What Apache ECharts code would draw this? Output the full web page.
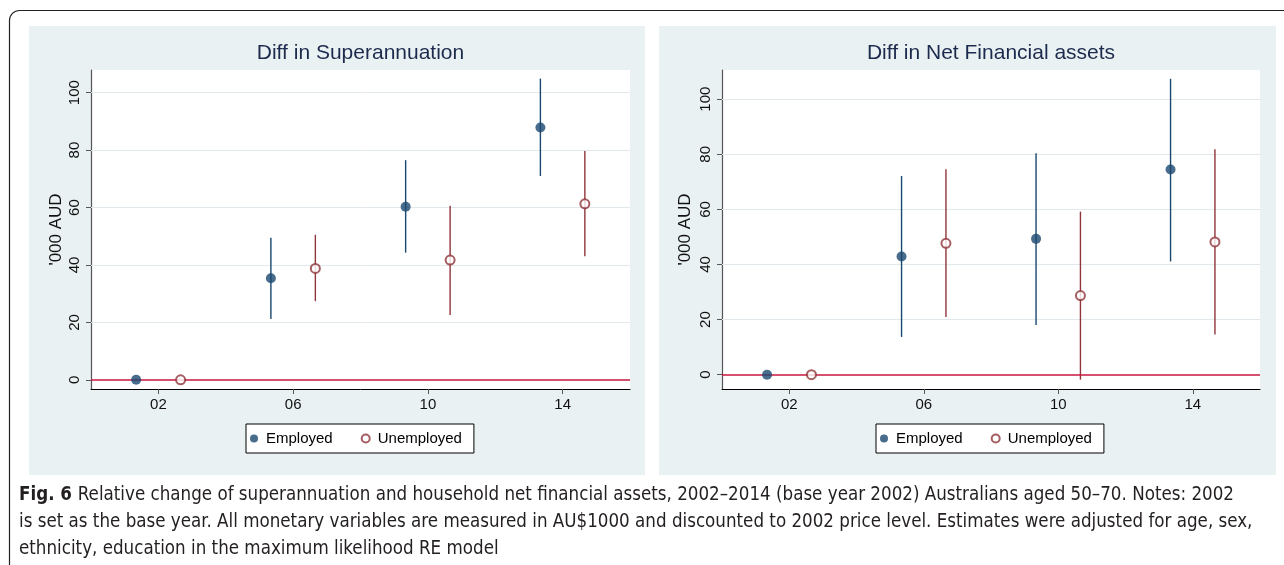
<!DOCTYPE html>
<html><head><meta charset="utf-8">
<script src="https://cdn.jsdelivr.net/npm/echarts@6/dist/echarts.min.js"></script>
<style>html,body{margin:0;padding:0;background:#fff}#c{width:1284px;height:565px}</style>
</head><body><div id="c"></div>
<script>
// ---------- data ----------
const years = [2002, 2006, 2010, 2014];
const xTickLabels = ['02', '06', '10', '14'];
const yTicks = [0, 20, 40, 60, 80, 100];
const panelTitles = ['Diff in Superannuation', 'Diff in Net Financial assets'];
const seriesNames = ['Employed', 'Unemployed'];
const yAxisName = "'000 AUD";

// Superannuation
const superEmpEst   = [0, 35.4, 60.3, 87.9];
const superEmpLow   = [0, 21.2, 44.3, 71.0];
const superEmpHigh  = [0, 49.5, 76.5, 104.9];
const superUnempEst = [0, 38.8, 41.7, 61.3];
const superUnempLow = [0, 27.4, 22.6, 43.0];
const superUnempHigh= [0, 50.5, 60.6, 79.7];

// Net financial assets
const nfaEmpEst   = [0, 42.9, 49.3, 74.5];
const nfaEmpLow   = [0, 13.7, 18.0, 41.1];
const nfaEmpHigh  = [0, 72.1, 80.4, 107.4];
const nfaUnempEst = [0, 47.7, 28.7, 48.2];
const nfaUnempLow = [0, 20.9, -1.8, 14.6];
const nfaUnempHigh= [0, 74.6, 59.2, 81.8];

const captionBold = 'Fig. 6';
const captionLines = [
  'Relative change of superannuation and household net financial assets, 2002\u20132014 (base year 2002) Australians aged 50\u201370. Notes: 2002',
  'is set as the base year. All monetary variables are measured in AU$1000 and discounted to 2002 price level. Estimates were adjusted for age, sex,',
  'ethnicity, education in the maximum likelihood RE model'
];

// ---------- layout / style ----------
const FONT = '"Liberation Sans", Arial, sans-serif';
const CAPFONT = '"Liberation Sans Narrow", "DejaVu Sans Condensed", "Liberation Sans", sans-serif';
const NAVY = '#1a476f', MAROON = '#90353b', ZERO = '#c9163f', GRIDC = '#e1e9ec', PANEL = '#eaf1f3';
const dodge = 0.66;

const panels = [
  { grid: {left: 91, top: 70, width: 539, height: 319}, yMin: -3.2, yMax: 107.9, nameGap: 26,
    bg: [29, 26, 616, 449], titleX: 360.5, legendLeft: 246,
    emp: [superEmpEst, superEmpLow, superEmpHigh], unemp: [superUnempEst, superUnempLow, superUnempHigh] },
  { grid: {left: 722, top: 70, width: 538, height: 319}, yMin: -5.2, yMax: 110.6, nameGap: 28,
    bg: [659, 26, 617, 449], titleX: 991, legendLeft: 876,
    emp: [nfaEmpEst, nfaEmpLow, nfaEmpHigh], unemp: [nfaUnempEst, nfaUnempLow, nfaUnempHigh] }
];

function ciRender(params, api) {
  const x = api.value(0), lo = api.value(1), hi = api.value(2);
  if (hi === lo) return null;
  const p1 = api.coord([x, lo]), p2 = api.coord([x, hi]);
  return { type: 'line', shape: {x1: p1[0], y1: p1[1], x2: p2[0], y2: p2[1]},
           style: { stroke: api.visual('color'), lineWidth: 1.4 } };
}

const grids = [], xAxes = [], yAxes = [], series = [], legends = [], graphics = [];

// outer frame
graphics.push({ type: 'rect', z: -10, shape: {x: 9.5, y: 10.5, width: 1320, height: 600, r: [10, 0, 0, 0]},
  style: {fill: 'none', stroke: '#222', lineWidth: 1.2} });

panels.forEach((p, i) => {
  graphics.push({ type: 'rect', z: -9, shape: {x: p.bg[0], y: p.bg[1], width: p.bg[2], height: p.bg[3]},
    style: {fill: PANEL} });
  graphics.push({ type: 'text', x: p.titleX, y: 53,
    style: {text: panelTitles[i], font: '21px ' + FONT, fill: '#1c2b4d', align: 'center', verticalAlign: 'middle'} });
  grids.push(Object.assign({show: true, backgroundColor: '#fff', borderWidth: 0}, p.grid));
  xAxes.push({ type: 'value', gridIndex: i, min: 2000, max: 2016,
    axisLine: {show: true, onZero: false, lineStyle: {color: '#000', width: 1}},
    axisTick: {show: true, length: 5, customValues: years, lineStyle: {color: '#555'}},
    axisLabel: {customValues: years, margin: 8, fontSize: 15, color: '#111', fontFamily: FONT,
      formatter: v => xTickLabels[years.indexOf(v)] },
    splitLine: {show: false} });
  yAxes.push({ type: 'value', gridIndex: i, min: p.yMin, max: p.yMax,
    name: yAxisName, nameLocation: 'middle', nameRotate: 90, nameGap: p.nameGap,
    nameTextStyle: {fontSize: 17, color: '#111', fontFamily: FONT},
    axisLine: {show: true, onZero: false, lineStyle: {color: '#555', width: 1.2}},
    axisTick: {show: true, length: 5, customValues: yTicks, lineStyle: {color: '#555'}},
    axisLabel: {customValues: yTicks, rotate: 90, margin: 9, fontSize: 15, color: '#111', fontFamily: FONT},
    splitLine: {show: false} });

  const empX = years.map(y => y - dodge), unX = years.map(y => y + dodge);
  series.push({ type: 'custom', name: 'ci-emp', xAxisIndex: i, yAxisIndex: i, z: 2,
    itemStyle: {color: NAVY}, renderItem: ciRender,
    data: empX.map((x, k) => [x, p.emp[1][k], p.emp[2][k]]),
    markLine: { silent: true, symbol: 'none', label: {show: false}, z: 1,
      lineStyle: {color: GRIDC, width: 1, type: 'solid'},
      data: yTicks.filter(v => v !== 0).map(v => ({yAxis: v})) } });
  series.push({ type: 'custom', name: 'ci-unemp', xAxisIndex: i, yAxisIndex: i, z: 2,
    itemStyle: {color: MAROON}, renderItem: ciRender,
    data: unX.map((x, k) => [x, p.unemp[1][k], p.unemp[2][k]]),
    markLine: { silent: true, symbol: 'none', label: {show: false},
      lineStyle: {color: ZERO, width: 1.5, type: 'solid'}, data: [{yAxis: 0}] } });
  series.push({ type: 'scatter', name: seriesNames[0], xAxisIndex: i, yAxisIndex: i, z: 5,
    symbol: 'circle', symbolSize: 10, itemStyle: {color: NAVY},
    data: empX.map((x, k) => [x, p.emp[0][k]]) });
  series.push({ type: 'scatter', name: seriesNames[1], xAxisIndex: i, yAxisIndex: i, z: 5,
    symbol: 'emptyCircle', symbolSize: 9, itemStyle: {color: MAROON, borderWidth: 1.3},
    data: unX.map((x, k) => [x, p.unemp[0][k]]) });
  legends.push({ data: seriesNames, left: p.legendLeft, top: 424, orient: 'horizontal',
    itemWidth: 14, itemHeight: 8, itemGap: 28, padding: [7, 12, 7, 4],
    borderColor: '#000', borderWidth: 1, backgroundColor: '#fff', selectedMode: false,
    textStyle: {fontSize: 15, color: '#000', fontFamily: FONT} });
});

// caption (scaled horizontally to the original line width)
const CAPSIZE = 20;
const cv = document.createElement('canvas').getContext('2d');
cv.font = 'bold ' + CAPSIZE + 'px ' + CAPFONT; const wb = cv.measureText(captionBold + ' ').width;
cv.font = CAPSIZE + 'px ' + CAPFONT; const w1 = wb + cv.measureText(captionLines[0]).width;
const sx = 1215 / w1;
const capY = [495, 522, 549];
captionLines.forEach((t, k) => {
  graphics.push({ type: 'text', x: 19, y: capY[k], scaleX: sx,
    style: k === 0
      ? {text: '{b|' + captionBold + ' }{n|' + t + '}', verticalAlign: 'middle',
         rich: {b: {font: 'bold ' + CAPSIZE + 'px ' + CAPFONT, fill: '#231f20'}, n: {font: CAPSIZE + 'px ' + CAPFONT, fill: '#231f20'}}}
      : {text: t, font: CAPSIZE + 'px ' + CAPFONT, fill: '#231f20', verticalAlign: 'middle'} });
});

const chart = echarts.init(document.getElementById('c'), null, {renderer: 'canvas'});
chart.setOption({ animation: false, backgroundColor: '#fff',
  grid: grids, xAxis: xAxes, yAxis: yAxes, series: series, legend: legends, graphic: graphics });
</script></body></html>
